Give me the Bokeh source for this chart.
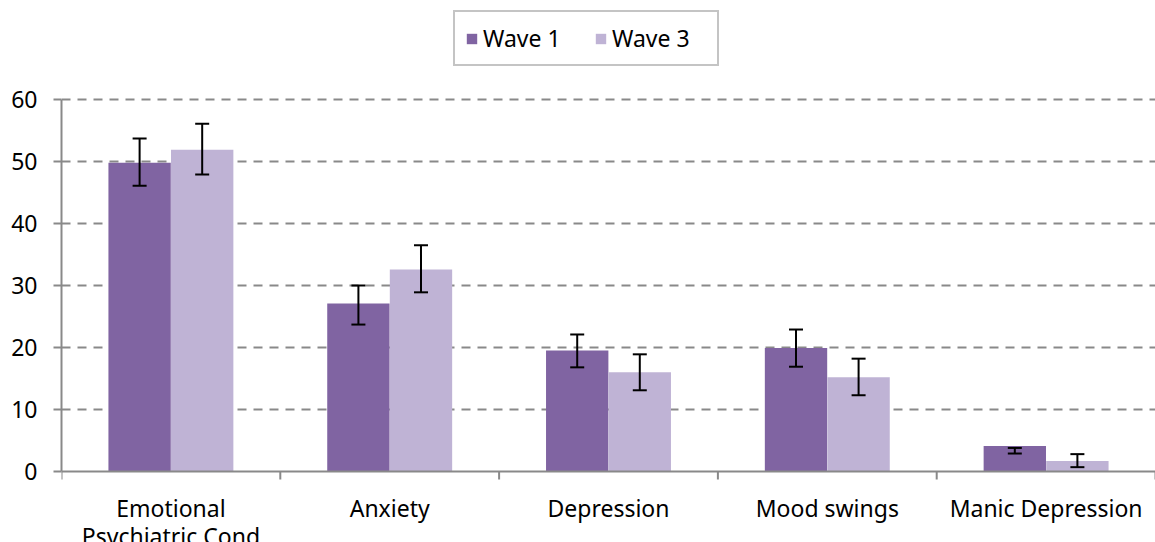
from bokeh.plotting import figure
from bokeh.models import (ColumnDataSource, Range1d, LabelSet, Span,
                          FixedTicker, Whisker, TeeHead, Legend, LegendItem)
from bokeh.core.properties import value
from bokeh.embed import file_html
from bokeh.resources import INLINE

categories = ["Emotional\nPsychiatric Cond", "Anxiety", "Depression", "Mood swings", "Manic Depression"]
wave1 = [49.8, 27.1, 19.5, 19.9, 4.1]
wave3 = [51.9, 32.6, 16.0, 15.2, 1.7]
wave1_lo = [46.1, 23.7, 16.8, 16.9, 2.9]
wave1_hi = [53.7, 30.0, 22.1, 22.9, 3.8]
wave3_lo = [47.9, 28.9, 13.1, 12.3, 0.7]
wave3_hi = [56.1, 36.5, 18.9, 18.2, 2.8]
y_ticks = [0, 10, 20, 30, 40, 50, 60]

FONT = "Noto Sans"
FS = "23px"
C1 = "#8064A2"
C3 = "#BFB3D5"
GRID = "#898989"

n = len(categories)
centers = [i + 0.5 for i in range(n)]
bounds = list(range(n + 1))
off = 0.143
bw = 0.285

# layout: value axis 0..60 spans 372 px; room above for legend, below for labels
PX = 372 / 60.0
y_lo = -71 / PX
y_hi = 60 + 89 / PX

line1 = [c.split("\n")[0] for c in categories]
line2 = [c.split("\n")[1] if "\n" in c else "" for c in categories]

src = ColumnDataSource(dict(x1=[c - off for c in centers], x3=[c + off for c in centers],
                            w1=wave1, w3=wave3,
                            w1lo=wave1_lo, w1hi=wave1_hi, w3lo=wave3_lo, w3hi=wave3_hi))
lab_src = ColumnDataSource(dict(x=centers, l1=line1, l2=line2,
                                y1=[-20 / PX] * n, y2=[-48 / PX] * n))
tick_src = ColumnDataSource(dict(x=bounds, y0=[0] * (n + 1), y1=[-8 / PX] * (n + 1)))

p = figure(width=1155, height=542, x_range=Range1d(0, n), y_range=Range1d(y_lo, y_hi),
           output_backend="svg", toolbar_location=None, x_axis_location=None,
           min_border_left=61, min_border_right=0, min_border_top=10, min_border_bottom=0)
p.outline_line_color = None
p.background_fill_color = "white"

p.xgrid.grid_line_color = None
p.ygrid.ticker = FixedTicker(ticks=y_ticks[1:])
p.ygrid.grid_line_color = GRID
p.ygrid.grid_line_width = 2
p.ygrid.grid_line_dash = "9 7"

r1 = p.vbar(x="x1", top="w1", width=bw, source=src, fill_color=C1, line_color=None)
r3 = p.vbar(x="x3", top="w3", width=bw, source=src, fill_color=C3, line_color=None)

for key in ("w1", "w3"):
    w = Whisker(base="x" + key[1], lower=key + "lo", upper=key + "hi",
                source=src, line_color="black", line_width=2, level="overlay",
                upper_head=TeeHead(size=14, line_width=2, line_color="black"),
                lower_head=TeeHead(size=14, line_width=2, line_color="black"))
    p.add_layout(w)

# x axis line at 0 with ticks at category boundaries
p.add_layout(Span(location=0, dimension="width", line_color=GRID, line_width=2))
p.segment(x0="x", y0="y0", x1="x", y1="y1", source=tick_src, line_color=GRID, line_width=2)

for txt, yy in (("l1", "y1"), ("l2", "y2")):
    p.add_layout(LabelSet(x="x", y=yy, text=txt, source=lab_src,
                          text_align="center", text_baseline="top", text_font=value(FONT),
                          text_font_size=value(FS), text_color="black"))

# y axis
p.yaxis.ticker = FixedTicker(ticks=y_ticks)
p.yaxis.bounds = (0, 60)
p.yaxis.axis_line_color = GRID
p.yaxis.axis_line_width = 2
p.yaxis.major_tick_line_color = GRID
p.yaxis.major_tick_line_width = 2
p.yaxis.major_tick_out = 8
p.yaxis.major_tick_in = 0
p.yaxis.minor_tick_line_color = None
p.yaxis.major_label_text_font = FONT
p.yaxis.major_label_text_font_size = FS
p.yaxis.major_label_text_color = "black"
p.yaxis.major_label_standoff = 16

legend = Legend(items=[LegendItem(label="Wave 1", renderers=[r1]),
                       LegendItem(label="Wave 3", renderers=[r3])],
                orientation="horizontal", location=(392, 476),
                label_text_font=FONT, label_text_font_size=FS, label_text_color="black",
                glyph_width=13, glyph_height=13, label_standoff=5, spacing=16,
                label_width=95, padding=10, margin=0,
                border_line_color=GRID, border_line_width=2, background_fill_alpha=1)
p.add_layout(legend, "center")

open("out.html", "w").write(file_html(p, INLINE))
